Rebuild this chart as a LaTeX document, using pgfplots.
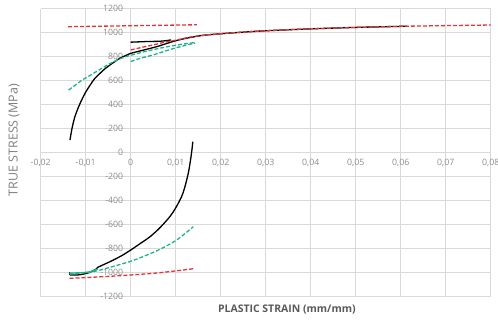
\documentclass[border=0pt]{standalone}
\usepackage{fontspec}
\setmainfont{Open Sans}
\usepackage{pgfplots}
\pgfplotsset{compat=1.18}
\definecolor{gridc}{HTML}{D9D9D9}
\definecolor{tickc}{HTML}{8C8C8C}
\definecolor{titlec}{HTML}{7F7F7F}
\definecolor{xlabc}{HTML}{595959}
\definecolor{redc}{HTML}{E5323B}
\definecolor{greenc}{HTML}{1FB38C}
\begin{document}
\begin{tikzpicture}
\path[use as bounding box] (-40.7bp,-23.3bp) rectangle (457.3bp,296.7bp);
\begin{axis}[
  at={(0,0)}, anchor=south west,
  scale only axis, width=450bp, height=288bp,
  xmin=-0.02, xmax=0.08, ymin=-1200, ymax=1200,
  axis lines=middle,
  axis line style={draw=gridc, line width=0.6bp, -},
  hide obscured x ticks=false, hide obscured y ticks=false,
  scaled x ticks=false, scaled y ticks=false,
  xtick={-0.02,-0.01,0,0.01,0.02,0.03,0.04,0.05,0.06,0.07,0.08},
  ytick={-1200,-1000,-800,-600,-400,-200,0,200,400,600,800,1000,1200},
  grid=major, grid style={draw=gridc, line width=0.6bp},
  major tick length=0pt,
  tick label style={font=\fontsize{8.8}{10}\selectfont, text=tickc},
  /pgf/number format/assume math mode=true,
  xticklabel style={/pgf/number format/.cd, fixed, precision=2, use comma, /tikz/.cd, yshift=-3bp},
  yticklabel style={/pgf/number format/.cd, 1000 sep={}, /tikz/.cd, xshift=-4bp},
  every axis x label/.style={at={(axis description cs:0.547,-0.046)}, anchor=center,
     font=\fontsize{10.5}{12}\selectfont\bfseries, text=xlabc},
  every axis y label/.style={at={(axis description cs:-0.059,0.544)}, anchor=center, rotate=90,
     font=\fontsize{12.5}{14}\selectfont, text=titlec},
  xlabel={PLASTIC STRAIN (mm/mm)},
  ylabel={TRUE STRESS (MPa)},
  clip=false,
]
% black solid, tension
\addplot[black, line width=1.3bp, smooth, tension=0.5] coordinates {
(-0.0135,105) (-0.0130,210) (-0.0124,300) (-0.0116,380) (-0.0109,439) (-0.0100,505)
(-0.0090,564) (-0.0080,618) (-0.0068,662) (-0.0057,700) (-0.0046,731) (-0.0035,760)
(-0.0024,787) (-0.0012,808) (0,828) (0.002,847) (0.004,866) (0.006,886) (0.008,910)
(0.010,933) (0.012,951) (0.0147,970) (0.0165,980) (0.020,991) (0.0243,1003)
(0.030,1016) (0.040,1032) (0.050,1044) (0.0615,1054)};
% black solid short (reloading)
\addplot[black, line width=1.3bp, smooth, tension=0.5] coordinates {
(0,921) (0.002,924) (0.004,927) (0.006,928) (0.0075,932) (0.009,940)};
% black solid, compression
\addplot[black, line width=1.3bp] coordinates {(-0.0136,-995) (-0.0136,-1022)};
\addplot[black, line width=1.3bp, smooth, tension=0.5] coordinates {
(-0.0135,-1020) (-0.0113,-1017) (-0.009,-996) (-0.0075,-965) (-0.0073,-955)
(-0.0046,-908) (-0.002,-858) (0,-811) (0.002,-760) (0.0043,-700) (0.0065,-625)
(0.0087,-533) (0.010,-460) (0.0113,-367) (0.012,-290) (0.0128,-170) (0.0133,-60)
(0.0136,22) (0.0138,92)};
% green solid short, compression
\addplot[greenc, line width=1.3bp, smooth, tension=0.5] coordinates {
(-0.0136,-1003) (-0.011,-1000) (-0.009,-992) (-0.0073,-968)};
% green dashed
\addplot[greenc, line width=1.3bp, dash pattern=on 4bp off 2bp, smooth, tension=0.5] coordinates {
(-0.0138,522) (-0.0125,558) (-0.011,600) (-0.009,645) (-0.007,690) (-0.005,735)
(-0.003,772) (-0.0015,795) (0,812) (0.002,832) (0.004,850) (0.006,867) (0.008,882)
(0.010,895) (0.012,907) (0.0143,918)};
\addplot[greenc, line width=1.3bp, dash pattern=on 4bp off 2bp, smooth, tension=0.5] coordinates {
(0,760) (0.002,785) (0.005,815) (0.0075,845) (0.0095,868) (0.012,893) (0.0143,914)};
\addplot[greenc, line width=1.3bp, dash pattern=on 4bp off 2bp, smooth, tension=0.5] coordinates {
(-0.0136,-1011) (-0.0083,-991) (-0.0046,-955) (0,-905) (0.0036,-853) (0.0065,-805)
(0.0102,-728) (0.0139,-617)};
% red dashed
\addplot[redc, line width=1.3bp, dash pattern=on 4bp off 2bp] coordinates {
(-0.0139,1050) (0,1058) (0.0147,1066)};
\addplot[redc, line width=1.3bp, dash pattern=on 4bp off 2bp, smooth, tension=0.5] coordinates {
(0,856) (0.0025,878) (0.005,898) (0.0075,920) (0.0102,939) (0.0130,962) (0.0165,980)
(0.020,991) (0.0243,1003) (0.030,1016) (0.040,1032) (0.050,1044) (0.060,1053)
(0.070,1059) (0.080,1064)};
\addplot[redc, line width=1.3bp, dash pattern=on 4bp off 2bp, smooth, tension=0.5] coordinates {
(-0.0136,-1047) (-0.007,-1035) (0,-1019) (0.0065,-1000) (0.0139,-967)};
\end{axis}
\end{tikzpicture}
\end{document}
